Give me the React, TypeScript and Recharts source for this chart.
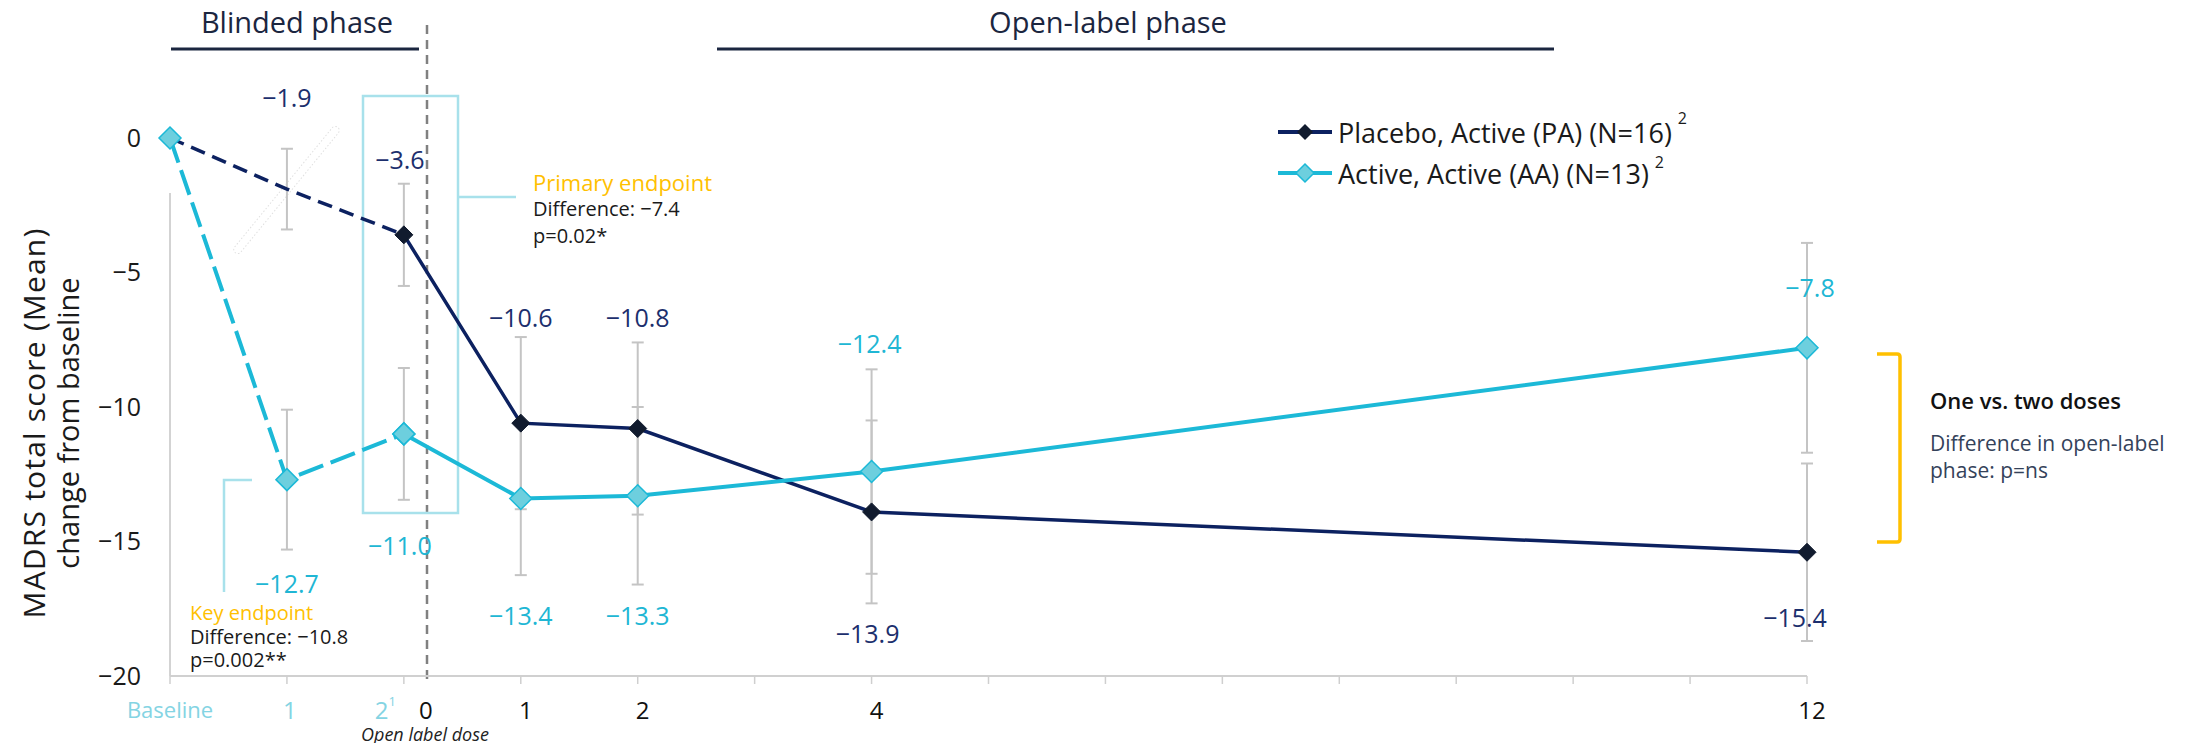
import React from 'react';
import { ComposedChart, Line, XAxis, YAxis, ErrorBar } from 'recharts';

const FONT = '"Open Sans", "DejaVu Sans", sans-serif';

// visits: label under the axis and weeks since baseline (blinded 0-2, then open label)
const visitLabels = ['Baseline', '1', '2', '1', '2', '4', '12'];
const visitWeeks = [0, 1, 2, 3, 4, 6, 14];
const blindedVisits = 3;

// MADRS change from baseline (mean) and error
const paMean = [0, -1.9, -3.6, -10.6, -10.8, -13.9, -15.4];
const aaMean = [0, -12.7, -11.0, -13.4, -13.3, -12.4, -7.8];
const paErr = [0, 1.5, 1.9, 3.2, 3.2, 3.4, 3.3];
const aaErr = [0, 2.6, 2.45, 2.85, 3.3, 3.8, 3.9];

const yTicks = [0, -5, -10, -15, -20];
const weekTicks = [0, 1, 2, 3, 4, 5, 6, 7, 8, 9, 10, 11, 12, 13, 14];

// where the value labels sit, in px from their point
const paLabelDy = [0, -92, -76, -106, -112, 121, 65];
const paLabelDx = [0, 0, -4, 0, 0, -4, -12];
const aaLabelDy = [0, 103, 111, 117, 119, -129, -61];
const aaLabelDx = [0, 0, -4, 0, 0, -2, 3];

const NAVY = '#0c2160';
const NAVY_MARK = '#111b2e';
const NAVY_TEXT = '#1c2f6d';
const CYAN = '#1cb9d7';
const CYAN_FILL = '#6dcfde';
const CYAN_TEXT = '#20b6d4';
const LIGHT_CYAN = '#84d4e3';
const BOX = '#a8e1eb';
const GOLD = '#ffc000';

const data = visitWeeks.map((week, i) => ({
  week,
  pa: paMean[i],
  aa: aaMean[i],
  paErr: paErr[i],
  aaErr: aaErr[i],
  paBlinded: i < blindedVisits ? paMean[i] : null,
  paOpen: i >= blindedVisits - 1 ? paMean[i] : null,
  aaBlinded: i < blindedVisits ? aaMean[i] : null,
  aaOpen: i >= blindedVisits - 1 ? aaMean[i] : null,
}));

const fmt = (v: number) => v.toFixed(1).replace('-', '\u2212');

const diamond = (r: number, fill: string, stroke: string, sw: number) => (props: any) => {
  const { cx, cy, index } = props;
  if (cx == null || cy == null || props.value == null) return <g key={`e-${index}`} />;
  return (
    <polygon
      key={`d-${index}`}
      points={`${cx},${cy - r} ${cx + r},${cy} ${cx},${cy + r} ${cx - r},${cy}`}
      fill={fill}
      stroke={stroke}
      strokeWidth={sw}
    />
  );
};

const valueLabel = (key: 'pa' | 'aa', dx: number[], dy: number[], color: string) => (props: any) => {
  const { cx, cy, index, payload } = props;
  if (index === 0 || cx == null || cy == null) return <g key={`n-${index}`} />;
  return (
    <text
      key={`l-${index}`}
      x={cx + dx[index]}
      y={cy + dy[index]}
      textAnchor="middle"
      dominantBaseline="central"
      fontSize={25}
      fontFamily={FONT}
      fill={color}
    >
      {fmt(payload[key])}
    </text>
  );
};

const WeekTick = (props: any) => {
  const { x, y, payload } = props;
  const i = visitWeeks.indexOf(payload.value);
  if (i < 0) return <g />;
  const ty = y + 23;
  if (i === 0) {
    return (
      <text x={x} y={ty} textAnchor="middle" dominantBaseline="central" fontSize={22} fill={LIGHT_CYAN} fontFamily={FONT}>
        {visitLabels[i]}
      </text>
    );
  }
  if (i === 1) {
    return (
      <text x={x + 3} y={ty} textAnchor="middle" dominantBaseline="central" fontSize={24} fill={LIGHT_CYAN} fontFamily={FONT}>
        {visitLabels[i]}
      </text>
    );
  }
  if (i === 2) {
    // blinded week 2 (footnote 1) sits next to open-label week 0
    return (
      <g>
        <text x={x - 8} y={ty} textAnchor="end" dominantBaseline="central" fontSize={24} fill={LIGHT_CYAN} fontFamily={FONT}>
          {visitLabels[i]}
          <tspan dy={-8} fontSize={13}>1</tspan>
        </text>
        <text x={x + 22} y={ty} textAnchor="middle" dominantBaseline="central" fontSize={24} fill="#111" fontFamily={FONT}>
          0
        </text>
      </g>
    );
  }
  return (
    <text x={x + 5} y={ty} textAnchor="middle" dominantBaseline="central" fontSize={24} fontWeight={500} fill="#111" fontFamily={FONT}>
      {visitLabels[i]}
    </text>
  );
};

function Annotations() {
  const t = { fontFamily: FONT, dominantBaseline: 'central' as const };
  return (
    <svg width={2212} height={751} style={{ position: 'absolute', left: 0, top: 0 }}>
      {/* phase headers */}
      <text x={297} y={21} textAnchor="middle" fontSize={29} fill="#1b2640" {...t}>Blinded phase</text>
      <line x1={171} y1={49} x2={419} y2={49} stroke="#1b2640" strokeWidth={3} />
      <text x={1108} y={21} textAnchor="middle" fontSize={29} fill="#1b2640" {...t}>Open-label phase</text>
      <line x1={717} y1={49} x2={1554} y2={49} stroke="#1b2640" strokeWidth={3} />

      {/* y axis line, broken just under baseline as in the source */}
      <line x1={170} y1={193} x2={170} y2={676} stroke="#d3d3d3" strokeWidth={2} />

      {/* start of open label dosing */}
      <line x1={427} y1={25} x2={427} y2={679} stroke="#808080" strokeWidth={2.5} strokeDasharray="9 6" />
      <text x={425} y={734} textAnchor="middle" fontSize={18} fontStyle="italic" fill="#222" {...t}>Open label dose</text>

      {/* faint outlined bar behind week 1 */}
      <g transform="translate(286.5,190) rotate(-50.7)">
        <rect x={-81} y={-4} width={162} height={8} rx={4} fill="#fff" stroke="#e0e0e0" strokeWidth={1} strokeDasharray="1.5 2" />
      </g>

      {/* primary endpoint */}
      <rect x={363} y={96} width={95} height={417} fill="none" stroke={BOX} strokeWidth={2.5} />
      <line x1={458} y1={197} x2={516} y2={197} stroke={BOX} strokeWidth={2.5} />
      <text x={533} y={182} fontSize={22} fill={GOLD} {...t}>Primary endpoint</text>
      <text x={533} y={208} fontSize={20} fill="#1a1a1a" {...t}>Difference: {'\u2212'}7.4</text>
      <text x={533} y={235} fontSize={20} fill="#1a1a1a" {...t}>p=0.02*</text>

      {/* key endpoint */}
      <polyline points="252,480 224,480 224,592" fill="none" stroke={BOX} strokeWidth={2.5} />
      <text x={190} y={612} fontSize={20} fill={GOLD} {...t}>Key endpoint</text>
      <text x={190} y={636} fontSize={20} fill="#1a1a1a" {...t}>Difference: {'\u2212'}10.8</text>
      <text x={190} y={659} fontSize={20} fill="#1a1a1a" {...t}>p=0.002**</text>

      {/* one vs two doses */}
      <path d="M1877 354 H1897 Q1900 354 1900 357 V539 Q1900 542 1897 542 H1877" fill="none" stroke={GOLD} strokeWidth={3.5} />
      <text x={1930} y={400} fontSize={22} fontWeight={600} fill="#111" {...t}>One vs. two doses</text>
      <text x={1930} y={443} fontSize={21} fill="#34425a" {...t}>Difference in open-label</text>
      <text x={1930} y={470} fontSize={21} fill="#34425a" {...t}>phase: p=ns</text>

      {/* y axis title */}
      <g transform="translate(33,423) rotate(-90)">
        <text x={0} y={0} textAnchor="middle" fontSize={30} letterSpacing={1.2} fill="#1a1a1a" {...t}>MADRS total score (Mean)</text>
      </g>
      <g transform="translate(67,423) rotate(-90)">
        <text x={0} y={0} textAnchor="middle" fontSize={29} fill="#1a1a1a" {...t}>change from baseline</text>
      </g>

      {/* legend */}
      <line x1={1278} y1={132} x2={1332} y2={132} stroke={NAVY} strokeWidth={4} />
      <polygon points="1305,124 1313,132 1305,140 1297,132" fill={NAVY_MARK} />
      <text x={1338} y={132} fontSize={27} fill="#1a1a1a" {...t}>
        Placebo, Active (PA) (N=16)
        <tspan dx={6} dy={-14} fontSize={16}>2</tspan>
      </text>
      <line x1={1278} y1={173} x2={1332} y2={173} stroke={CYAN} strokeWidth={4} />
      <polygon points="1305,164 1314,173 1305,182 1296,173" fill={CYAN_FILL} stroke={CYAN} strokeWidth={1.5} />
      <text x={1338} y={173} fontSize={27} fill="#1a1a1a" {...t}>
        Active, Active (AA) (N=13)
        <tspan dx={6} dy={-11} fontSize={16}>2</tspan>
      </text>
    </svg>
  );
}

export default function App() {
  return (
    <div style={{ position: 'relative', width: 2212, height: 751, margin: -8, background: '#fff', overflow: 'hidden' }}>
      <Annotations />
      <div style={{ position: 'absolute', left: 0, top: 0 }}>
        <ComposedChart
          width={2212}
          height={751}
          data={data}
          margin={{ top: 138, right: 405, bottom: 15, left: 110 }}
          style={{ fontFamily: FONT }}
        >
          <XAxis
            dataKey="week"
            type="number"
            domain={[0, 14]}
            ticks={weekTicks}
            interval={0}
            height={60}
            tickSize={8}
            tickMargin={2}
            axisLine={{ stroke: '#d0d0d0', strokeWidth: 2 }}
            tickLine={{ stroke: '#cfcfcf', strokeWidth: 1.5 }}
            tick={<WeekTick />}
          />
          <YAxis
            type="number"
            domain={[-20, 0]}
            ticks={yTicks}
            interval={0}
            width={60}
            tickLine={false}
            tickSize={0}
            tickMargin={29}
            axisLine={false}
            tick={{ fontSize: 25, fill: '#1a1a1a', fontFamily: FONT }}
            tickFormatter={(v: number) => String(v).replace('-', '\u2212')}
          />

          {/* error bars and value labels, kept under the lines */}
          <Line dataKey="pa" stroke="none" isAnimationActive={false} activeDot={false} dot={valueLabel('pa', paLabelDx, paLabelDy, NAVY_TEXT)}>
            <ErrorBar dataKey="paErr" direction="y" width={6} stroke="#c4c4c4" strokeWidth={2} />
          </Line>
          <Line dataKey="aa" stroke="none" isAnimationActive={false} activeDot={false} dot={valueLabel('aa', aaLabelDx, aaLabelDy, CYAN_TEXT)}>
            <ErrorBar dataKey="aaErr" direction="y" width={6} stroke="#c4c4c4" strokeWidth={2} />
          </Line>

          <Line dataKey="paBlinded" stroke={NAVY} strokeWidth={3.5} strokeDasharray="15 8" dot={false} activeDot={false} isAnimationActive={false} />
          <Line dataKey="paOpen" stroke={NAVY} strokeWidth={3.5} dot={diamond(9, NAVY_MARK, NAVY_MARK, 1)} activeDot={false} isAnimationActive={false} />
          <Line dataKey="aaBlinded" stroke={CYAN} strokeWidth={4} strokeDasharray="26 8" dot={diamond(11, CYAN_FILL, CYAN, 1.5)} activeDot={false} isAnimationActive={false} />
          <Line dataKey="aaOpen" stroke={CYAN} strokeWidth={4} dot={diamond(11, CYAN_FILL, CYAN, 1.5)} activeDot={false} isAnimationActive={false} />
        </ComposedChart>
      </div>
    </div>
  );
}
